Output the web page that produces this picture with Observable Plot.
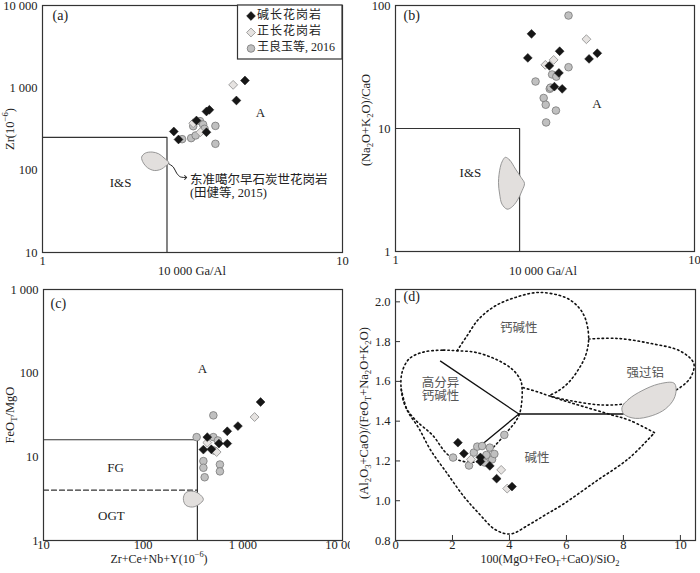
<!DOCTYPE html>
<html><head><meta charset="utf-8">
<script src="https://cdn.jsdelivr.net/npm/d3@7"></script>
<script src="https://cdn.jsdelivr.net/npm/@observablehq/plot@0.6"></script>
<style>
body{margin:0;background:#fff;}
#wrap{position:relative;width:700px;height:573px;overflow:hidden;background:#fff;}
#wrap svg{position:absolute;}
</style></head><body><div id="wrap"></div>
<script>
// ---------------- DATA ----------------
const seriesNames = ["碱长花岗岩", "正长花岗岩", "王良玉等, 2016"];

// (a) 10000Ga/Al vs Zr
const aAlkX = [2.74, 2.84, 3.26, 3.52, 3.60, 3.52, 4.43, 4.73];
const aAlkY = [295, 236, 401, 516, 541, 289, 702, 1227];
const aOrthX = [4.32, 3.18, 3.36];
const aOrthY = [1087, 372, 289];
const aWangX = [2.92, 3.13, 3.24, 3.18, 3.35, 3.43, 3.47, 3.77, 3.77];
const aWangY = [238, 245, 264, 342, 394, 359, 318, 345, 209];
const aBlobX = [2.64, 2.54, 2.44, 2.32, 2.20, 2.14, 2.17, 2.24, 2.36, 2.49, 2.57];
const aBlobY = [122, 141, 158, 166, 161, 144, 122, 107, 99, 103, 112];
const aBoxX = [1, 2.6, 2.6];
const aBoxY = [250, 250, 10];
const aArrowX = [2.64, 2.73, 2.80, 2.88, 3.00];
const aArrowY = [119, 109, 92, 83, 81.5];
const aLabelText = ["I&S", "A"];
const aLabelX = [1.82, 5.33];
const aLabelY = [71, 500];
const aNoteText = ["东准噶尔早石炭世花岗岩", "(田健等, 2015)"];
const aNoteX = [3.10, 3.10];
const aNoteY = [77, 52.5];
const aXTicks = [1, 10];
const aYTicks = [10, 100, 1000, 10000];

// (b) 10000Ga/Al vs (Na2O+K2O)/CaO
const bAlkX = [2.85, 2.77, 3.27, 3.54, 3.52, 3.40, 3.61, 4.44, 4.73];
const bAlkY = [58.8, 37.5, 32.3, 42.5, 28.3, 21.9, 21.0, 36.8, 40.9];
const bOrthX = [4.35, 3.17, 3.38];
const bOrthY = [53.2, 32.9, 36.1];
const bWangX = [3.79, 3.79, 2.94, 3.34, 3.45, 3.28, 3.13, 3.18, 3.44, 3.19, 3.30];
const bWangY = [82.9, 31.5, 24.1, 27.5, 26.4, 21.0, 17.7, 15.6, 14.0, 11.2, 21.5];
const bBlobX = [2.33, 2.41, 2.52, 2.63, 2.70, 2.65, 2.55, 2.44, 2.36, 2.27, 2.23, 2.21, 2.24, 2.28];
const bBlobY = [5.83, 5.54, 4.68, 4.00, 3.58, 3.12, 2.58, 2.28, 2.21, 2.43, 2.93, 3.65, 4.83, 5.47];
const bBoxX = [1, 2.6, 2.6];
const bBoxY = [10, 10, 1];
const bLabelText = ["I&S", "A"];
const bLabelX = [1.78, 4.72];
const bLabelY = [4.4, 16];
const bXTicks = [1, 10];
const bYTicks = [1, 10, 100];

// (c) Zr+Ce+Nb+Y vs FeOT/MgO
const cAlkX = [440, 402, 483, 576, 698, 698, 893, 1507];
const cAlkY = [17.2, 12.2, 12.3, 14.4, 14.4, 20.2, 23.3, 45.2];
const cOrthX = [1312, 440, 546];
const cOrthY = [29.9, 14.8, 11.4];
const cWangX = [506, 344, 506, 562, 513, 402, 402, 414, 589, 589];
const cWangY = [31.3, 17.2, 17.2, 15.7, 11.9, 8.9, 7.4, 5.7, 8.1, 6.7];
const cBlobX = [267, 312, 363, 402, 363, 312, 267, 253];
const cBlobY = [3.72, 3.90, 3.62, 3.10, 2.70, 2.51, 2.65, 3.16];
const cBoxX = [10, 350, 350];
const cBoxY = [16, 16, 1];
const cDashX = [10, 350];
const cDashY = [4, 4];
const cLabelText = ["FG", "OGT", "A"];
const cLabelX = [53, 48, 393];
const cLabelY = [7.4, 1.96, 113];
const cXTicks = [10, 100, 1000, 10000];
const cYTicks = [1, 10, 100, 1000];

// (d) 100(MgO+FeOT+CaO)/SiO2 vs (Al2O3+CaO)/(FeOT+Na2O+K2O)
const dAlkX = [2.19, 2.40, 2.98, 2.98, 3.31, 3.55, 4.09];
const dAlkY = [1.292, 1.237, 1.218, 1.197, 1.175, 1.111, 1.071];
const dOrthX = [3.71, 3.92, 2.65];
const dOrthY = [1.155, 1.061, 1.208];
const dWangX = [2.02, 2.58, 2.75, 2.87, 3.04, 3.31, 3.13, 3.39, 3.47, 3.82, 3.19];
const dWangY = [1.217, 1.177, 1.242, 1.272, 1.275, 1.267, 1.192, 1.208, 1.235, 1.331, 1.230];
const dHFX = [2.16, 1.64, 0.94, 0.47, 0.23, 0.20, 0.35, 0.70, 1.29, 1.93, 2.87, 3.51, 3.92, 4.21, 4.36, 4.44, 4.44, 4.39, 4.09, 3.51, 2.81];
const dHFY = [1.754, 1.757, 1.746, 1.712, 1.645, 1.562, 1.473, 1.406, 1.331, 1.222, 1.197, 1.280, 1.347, 1.397, 1.440, 1.511, 1.570, 1.607, 1.662, 1.712, 1.746];
const dCalcX = [2.16, 2.51, 2.92, 3.51, 4.21, 5.03, 5.96, 6.43, 6.67, 6.78, 6.67, 6.43, 6.08, 5.67, 5.38];
const dCalcY = [1.754, 1.829, 1.913, 1.980, 2.022, 2.047, 2.022, 1.972, 1.913, 1.813, 1.729, 1.662, 1.595, 1.548, 1.528];
const dPerX = [6.78, 7.78, 8.95, 10.0, 10.47, 10.37, 10.0, 9.42, 8.36, 7.31, 6.14, 5.38, 4.97, 4.44];
const dPerY = [1.813, 1.816, 1.791, 1.752, 1.690, 1.623, 1.570, 1.531, 1.493, 1.481, 1.503, 1.528, 1.548, 1.570];
const dAlkLowX = [0.20, 0.41, 0.82, 1.23, 1.81, 2.40, 2.92, 3.51, 4.04, 4.68, 5.26, 5.85, 7.02, 8.19, 9.09];
const dAlkLowY = [1.562, 1.456, 1.364, 1.255, 1.138, 1.021, 0.937, 0.854, 0.833, 0.879, 0.929, 0.979, 1.096, 1.213, 1.342];
const dAlkUpX = [9.09, 8.19, 7.60, 6.61, 5.91, 5.38];
const dAlkUpY = [1.342, 1.406, 1.431, 1.473, 1.503, 1.528];
const dBlobX = [7.95, 8.19, 8.65, 9.24, 9.77, 9.85, 9.77, 9.47, 9.01, 8.42, 8.01];
const dBlobY = [1.469, 1.511, 1.553, 1.587, 1.592, 1.562, 1.511, 1.461, 1.428, 1.414, 1.436];
const dSolidX = [1.58, 4.33, 4.33, 2.98, 4.33, 7.99];
const dSolidY = [1.702, 1.436, 1.436, 1.277, 1.436, 1.436];
const dSolidSeg = [0, 0, 1, 1, 2, 2];
const dLabelText = ["钙碱性", "强过铝", "高分异", "钙碱性", "碱性"];
const dLabelX = [4.33, 8.77, 1.58, 1.58, 4.97];
const dLabelY = [1.869, 1.644, 1.59, 1.526, 1.213];
const dXTicks = [0, 2, 4, 6, 8, 10];
const dYTicks = [0.8, 1.0, 1.2, 1.4, 1.6, 1.8, 2.0];

// ---------------- HELPERS ----------------
const SERIF = "\"Liberation Serif\", \"DejaVu Serif\", serif";
const CJK = "\"Liberation Serif\", \"Noto Sans CJK SC\", serif";
const fmt = d3.formatLocale({decimal: ".", thousands: " ", grouping: [3], currency: ["", ""]}).format(",");
const fmtD = d3.format(".1f");
const zip = (xs, ys) => xs.map((x, i) => ({x, y: ys[i]}));
const zipT = (ts, xs, ys) => ts.map((t, i) => ({text: t, x: xs[i], y: ys[i]}));
const baseStyle = {fontFamily: SERIF, fontSize: "12.5px", color: "#222", background: "#fff", overflow: "visible"};
const INK = "#333";

function pointMarks(alk, orth, wang) {
  return [
    Plot.dot(wang, {x: "x", y: "y", r: 3.8, fill: "#c0c0c0", stroke: "#777", strokeWidth: 0.8}),
    Plot.dot(orth, {x: "x", y: "y", symbol: "diamond2", r: 4, fill: "#e6e3e1", stroke: "#8a8a8a", strokeWidth: 0.8}),
    Plot.dot(alk, {x: "x", y: "y", symbol: "diamond2", r: 4, fill: "#161616", stroke: "#161616", strokeWidth: 0.5})
  ];
}
function blob(xs, ys) {
  return Plot.line(zip(xs, ys), {x: "x", y: "y", curve: "catmull-rom-closed", fill: "#e2dfdd", stroke: "#8c8c8c", strokeWidth: 0.9});
}
function regionText(ts, xs, ys, opts = {}) {
  return Plot.text(zipT(ts, xs, ys), {x: "x", y: "y", text: "text", fontSize: 13, fill: "#222", fontFamily: CJK, ...opts});
}
function panelLetter(t, dx, dy) {
  return Plot.text([t], {frameAnchor: "top-left", textAnchor: "start", lineAnchor: "middle", dx, dy, fontSize: 14, fill: "#222", fontFamily: SERIF});
}
function richText(svg, {x, y, rotate = 0, parts, size = 12.5, fill = "#222"}) {
  const t = d3.select(svg).append("text")
    .attr("transform", `translate(${x},${y}) rotate(${rotate})`)
    .attr("text-anchor", "middle").attr("dominant-baseline", "middle")
    .attr("font-family", SERIF).attr("font-size", size).attr("fill", fill);
  let shift = 0;
  for (const [s, k] of parts) {
    const target = k === "sub" ? 0.3 * size : k === "super" ? -0.4 * size : 0;
    t.append("tspan").text(s).attr("dy", target - shift).attr("font-size", k ? size * 0.7 : size);
    shift = target;
  }
}
const wrap = document.getElementById("wrap");
function place(svg, left, top) { svg.style.left = left + "px"; svg.style.top = top + "px"; wrap.appendChild(svg); }

// ---------------- PANEL (a) ----------------
const svgA = Plot.plot({
  width: 350, height: 280, marginLeft: 42, marginRight: 8, marginTop: 5, marginBottom: 28,
  style: baseStyle,
  x: {type: "log", domain: [1, 10]},
  y: {type: "log", domain: [10, 10000]},
  marks: [
    Plot.axisX(aXTicks, {tickSize: 0, tickPadding: 4, tickFormat: fmt, label: null}),
    Plot.axisY(aYTicks, {tickSize: 0, tickPadding: 5, tickFormat: fmt, label: null}),
    Plot.line(zip(aBoxX, aBoxY), {x: "x", y: "y", stroke: INK, strokeWidth: 1.2}),
    blob(aBlobX, aBlobY),
    Plot.line(zip(aArrowX, aArrowY), {x: "x", y: "y", curve: "catmull-rom", stroke: "#222", strokeWidth: 1, markerEnd: "arrow"}),
    ...pointMarks(zip(aAlkX, aAlkY), zip(aOrthX, aOrthY), zip(aWangX, aWangY)),
    regionText(aLabelText, aLabelX, aLabelY),
    regionText(aNoteText, aNoteX, aNoteY, {textAnchor: "start", fontSize: 12.5}),
    panelLetter("(a)", 10, 10),
    Plot.frame({stroke: INK, strokeWidth: 1.2})
  ]
});
place(svgA, 0, 0);
richText(svgA, {x: 11, y: 129, rotate: -90, parts: [["Zr(10"], ["−6", "super"], [")"]]});
richText(svgA, {x: 192, y: 272, parts: [["10 000 Ga/Al"]]});
// legend
{
  const g = d3.select(svgA).append("g");
  g.append("rect").attr("x", 237.5).attr("y", 5).attr("width", 104.5).attr("height", 54)
    .attr("fill", "#fff").attr("stroke", INK).attr("stroke-width", 1.2);
  const rows = [16, 32.5, 48.5];
  const sym = d3.symbol();
  g.append("path").attr("transform", `translate(251,${rows[0]})`).attr("d", sym.type(d3.symbolDiamond2).size(50)())
    .attr("fill", "#161616").attr("stroke", "#161616").attr("stroke-width", 0.5);
  g.append("path").attr("transform", `translate(251,${rows[1]})`).attr("d", sym.type(d3.symbolDiamond2).size(50)())
    .attr("fill", "#e6e3e1").attr("stroke", "#8a8a8a").attr("stroke-width", 0.8);
  g.append("circle").attr("cx", 251).attr("cy", rows[2]).attr("r", 3.8)
    .attr("fill", "#c0c0c0").attr("stroke", "#777").attr("stroke-width", 0.8);
  seriesNames.forEach((n, i) => {
    g.append("text").attr("x", 257).attr("y", rows[i]).attr("dominant-baseline", "middle")
      .attr("text-anchor", "start")
      .attr("font-family", CJK).attr("font-size", 12).attr("letter-spacing", i === 2 ? 0 : 1).attr("fill", "#222").text(n);
  });
}

// ---------------- PANEL (b) ----------------
const svgB = Plot.plot({
  width: 350, height: 280, marginLeft: 45, marginRight: 6, marginTop: 5, marginBottom: 29,
  style: baseStyle,
  x: {type: "log", domain: [1, 10]},
  y: {type: "log", domain: [1, 100]},
  marks: [
    Plot.axisX(bXTicks, {tickSize: 0, tickPadding: 4, tickFormat: fmt, label: null}),
    Plot.axisY(bYTicks, {tickSize: 0, tickPadding: 5, tickFormat: fmt, label: null}),
    Plot.line(zip(bBoxX, bBoxY), {x: "x", y: "y", stroke: INK, strokeWidth: 1.2}),
    blob(bBlobX, bBlobY),
    ...pointMarks(zip(bAlkX, bAlkY), zip(bOrthX, bOrthY), zip(bWangX, bWangY)),
    regionText(bLabelText, bLabelX, bLabelY),
    panelLetter("(b)", 8, 10),
    Plot.frame({stroke: INK, strokeWidth: 1.2})
  ]
});
place(svgB, 350, 0);
richText(svgB, {x: 17, y: 120, rotate: -90, parts: [["(Na"], ["2", "sub"], ["O+K"], ["2", "sub"], ["O)/CaO"]]});
richText(svgB, {x: 193, y: 272, parts: [["10 000 Ga/Al"]]});

// ---------------- PANEL (c) ----------------
const svgC = Plot.plot({
  width: 350, height: 293, marginLeft: 43, marginRight: 8, marginTop: 9, marginBottom: 33,
  style: baseStyle,
  x: {type: "log", domain: [10, 10000]},
  y: {type: "log", domain: [1, 1000]},
  marks: [
    Plot.axisX(cXTicks, {tickSize: 0, tickPadding: 0, tickFormat: fmt, label: null}),
    Plot.axisY(cYTicks, {tickSize: 0, tickPadding: 5, tickFormat: fmt, label: null}),
    Plot.line(zip(cBoxX, cBoxY), {x: "x", y: "y", stroke: INK, strokeWidth: 1.2}),
    Plot.line(zip(cDashX, cDashY), {x: "x", y: "y", stroke: INK, strokeWidth: 1.2, strokeDasharray: "5,3"}),
    blob(cBlobX, cBlobY),
    ...pointMarks(zip(cAlkX, cAlkY), zip(cOrthX, cOrthY), zip(cWangX, cWangY)),
    regionText(cLabelText, cLabelX, cLabelY),
    panelLetter("(c)", 7, 14),
    Plot.frame({stroke: INK, strokeWidth: 1.2})
  ]
});
place(svgC, 0, 280);
richText(svgC, {x: 11, y: 135, rotate: -90, parts: [["FeO"], ["T", "sub"], ["/MgO"]]});
richText(svgC, {x: 159, y: 280, size: 12, parts: [["Zr+Ce+Nb+Y(10"], ["−6", "super"], [")"]]});

// ---------------- PANEL (d) ----------------
const dotted = {x: "x", y: "y", curve: "catmull-rom", stroke: "#111", strokeWidth: 1.6, strokeDasharray: "1.5,3"};
const svgD = Plot.plot({
  width: 350, height: 293, marginLeft: 45, marginRight: 5, marginTop: 9, marginBottom: 33,
  style: baseStyle,
  x: {domain: [0, 10.53]},
  y: {domain: [0.8, 2.062]},
  marks: [
    Plot.axisX(dXTicks, {tickSize: -5, tickPadding: 5, tickFormat: d => String(d), label: null, stroke: INK}),
    Plot.axisY(dYTicks, {tickSize: -5, tickPadding: 10, tickFormat: fmtD, label: null, stroke: INK}),
    Plot.line(zip(dHFX, dHFY), {...dotted, curve: "catmull-rom-closed"}),
    Plot.line(zip(dCalcX, dCalcY), dotted),
    Plot.line(zip(dPerX, dPerY), dotted),
    Plot.line(zip(dAlkLowX, dAlkLowY), dotted),
    Plot.line(zip(dAlkUpX, dAlkUpY), dotted),
    Plot.line(dSolidX.map((x, i) => ({x, y: dSolidY[i], s: dSolidSeg[i]})), {x: "x", y: "y", z: "s", stroke: "#111", strokeWidth: 1.3}),
    blob(dBlobX, dBlobY),
    ...pointMarks(zip(dAlkX, dAlkY), zip(dOrthX, dOrthY), zip(dWangX, dWangY)),
    regionText(dLabelText, dLabelX, dLabelY, {fill: "#555", fontSize: 12.5}),
    panelLetter("(d)", 8, 7),
    Plot.frame({stroke: INK, strokeWidth: 1.2})
  ]
});
place(svgD, 350, 280);
richText(svgD, {x: 15, y: 133, rotate: -90, parts: [["(Al"], ["2", "sub"], ["O"], ["3", "sub"], ["+CaO)/(FeO"], ["T", "sub"], ["+Na"], ["2", "sub"], ["O+K"], ["2", "sub"], ["O)"]]});
richText(svgD, {x: 200, y: 280, size: 12, parts: [["100(MgO+FeO"], ["T", "sub"], ["+CaO)/SiO"], ["2", "sub"]]});
</script></body></html>
